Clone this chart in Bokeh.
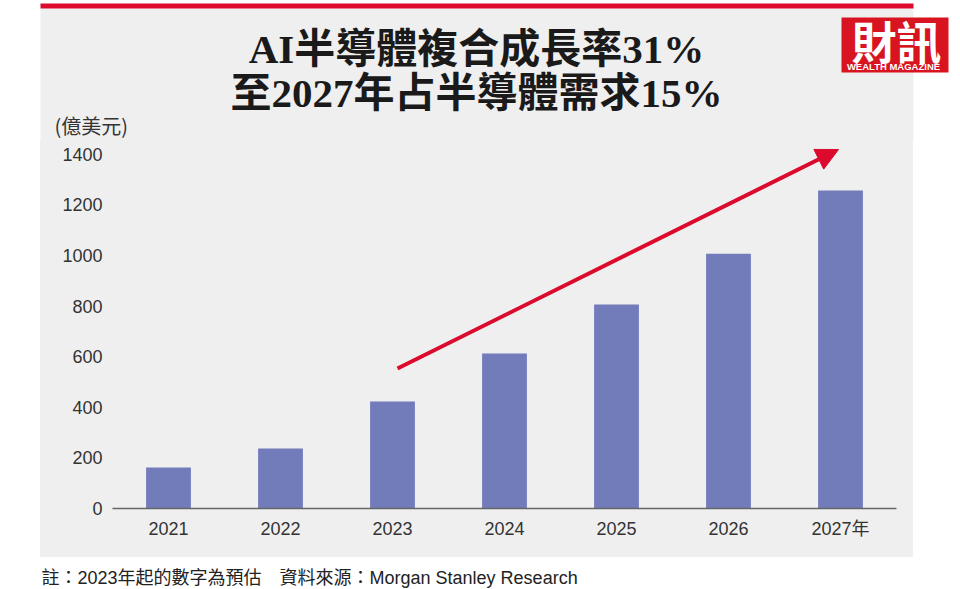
from bokeh.plotting import figure
from bokeh.layouts import column, row
from bokeh.models import (FactorRange, Range1d, FixedTicker, BoxAnnotation, Label, Arrow,
                          NormalHead, Spacer)
from bokeh.embed import file_html
from bokeh.resources import INLINE

# ---- data ----
years = ["2021", "2022", "2023", "2024", "2025", "2026", "2027年"]
values = [162, 237, 423, 613, 807, 1007, 1257]
y_ticks = [0, 200, 400, 600, 800, 1000, 1200, 1400]
title_lines = ["AI半導體複合成長率31%", "至2027年占半導體需求15%"]
unit_label = "(億美元)"
note = "註：2023年起的數字為預估　資料來源：Morgan Stanley Research"
logo_main = "財訊"
logo_sub = "WEALTH MAGAZINE"

# ---- style / layout ----
GRAY = "#efefef"
BAR = "#727cba"
RED = "#dc0a2d"
LOGO_RED = "#d7141f"
TXT = "#333333"
CJK = "Noto Sans CJK TC"
SANS = "'Liberation Sans', 'Noto Sans CJK TC'"
SERIF = "'Liberation Serif', 'Noto Sans CJK TC'"

PAGE_W = 960
PANEL_L, PANEL_R = 40, 913        # gray panel, page px
HEAD_H = 140                      # header strip height
CHART_B = 557                     # bottom of gray panel
FOOT_H = 589 - CHART_B
FL, FR, FT, FB = 112, 896, 140, 508   # plot frame, page px
Y_END = 1455


def bare(width, height, y0, y1):
    f = figure(width=width, height=height, x_range=Range1d(0, width), y_range=Range1d(y1, y0),
               output_backend="svg", toolbar_location=None, min_border=0,
               x_axis_location=None, y_axis_location=None,
               background_fill_color="white", border_fill_color="white",
               outline_line_color=None)
    f.grid.visible = False
    return f


def box(f, l, r, t, b, color):
    f.add_layout(BoxAnnotation(left=l, right=r, top=t, bottom=b, fill_color=color,
                               fill_alpha=1, line_color=None, line_alpha=0))


# ---------- header ----------
head = bare(PAGE_W, HEAD_H, 0, HEAD_H)
box(head, PANEL_L, PANEL_R, 8, HEAD_H + 2, GRAY)
box(head, PANEL_L, PANEL_R, 3, 8, RED)
box(head, 841, 948, 17, 72, LOGO_RED)
head.add_layout(Label(x=896, y=40, text=logo_main, text_align="center", text_baseline="middle",
                      text_font=CJK, text_font_style="bold", text_font_size="45px",
                      text_color="white"))
head.add_layout(Label(x=893, y=65.5, text=logo_sub, text_align="center", text_baseline="middle",
                      text_font="Liberation Sans", text_font_style="bold", text_font_size="9.5px",
                      text_color="white"))
for line, py in zip(title_lines, [48, 92]):
    head.add_layout(Label(x=476, y=py, text=line, text_align="center", text_baseline="middle",
                          text_font=SERIF, text_font_style="bold", text_font_size="41px",
                          text_color="#1a1a1a"))
head.add_layout(Label(x=54, y=125, text=unit_label, text_align="left", text_baseline="middle",
                      text_font=CJK, text_font_size="20px", text_color=TXT))

# ---------- chart ----------
p = figure(width=PANEL_R - PANEL_L, height=CHART_B - HEAD_H,
           x_range=FactorRange(*years, range_padding=0),
           y_range=Range1d(0, Y_END),
           output_backend="svg", toolbar_location=None,
           min_border_left=FL - PANEL_L, min_border_right=PANEL_R - FR,
           min_border_top=FT - HEAD_H, min_border_bottom=CHART_B - FB,
           background_fill_color=None, border_fill_color=None,
           outline_line_color=None, styles={"background-color": GRAY})

p.vbar(x=years, top=values, width=0.40, fill_color=BAR, line_color=None)
p.grid.visible = False

p.xaxis.axis_line_color = "#666666"
p.xaxis.axis_line_width = 1.5
p.xaxis.major_tick_line_color = None
p.xaxis.minor_tick_line_color = None
p.xaxis.major_tick_out = 0
p.xaxis.major_tick_in = 0
p.xaxis.major_label_standoff = 10
p.xaxis.major_label_text_font = SANS
p.xaxis.major_label_text_font_size = "18px"
p.xaxis.major_label_text_color = TXT

p.yaxis.ticker = FixedTicker(ticks=y_ticks)
p.yaxis.axis_line_color = None
p.yaxis.major_tick_line_color = None
p.yaxis.minor_tick_line_color = None
p.yaxis.major_tick_out = 0
p.yaxis.major_tick_in = 0
p.yaxis.major_label_standoff = 10
p.yaxis.major_label_text_font = SANS
p.yaxis.major_label_text_font_size = "18px"
p.yaxis.major_label_text_color = TXT


def X(px):
    return (px - FL) / (FR - FL) * len(years)


def Y(py):
    return (FB - py) / (FB - FT) * Y_END


p.add_layout(Arrow(end=NormalHead(size=22, fill_color=RED, line_color=RED),
                   x_start=X(397), y_start=Y(368), x_end=X(838), y_end=Y(149),
                   line_color=RED, line_width=4))

# ---------- footer ----------
foot = bare(PAGE_W, FOOT_H, CHART_B, 589)
foot.add_layout(Label(x=41, y=577, text=note, text_align="left", text_baseline="middle",
                      text_font=SANS, text_font_size="18px", text_color="#222222"))

layout = column(head, row(Spacer(width=PANEL_L, height=CHART_B - HEAD_H), p), foot)

open("out.html", "w").write(file_html(layout, INLINE))
